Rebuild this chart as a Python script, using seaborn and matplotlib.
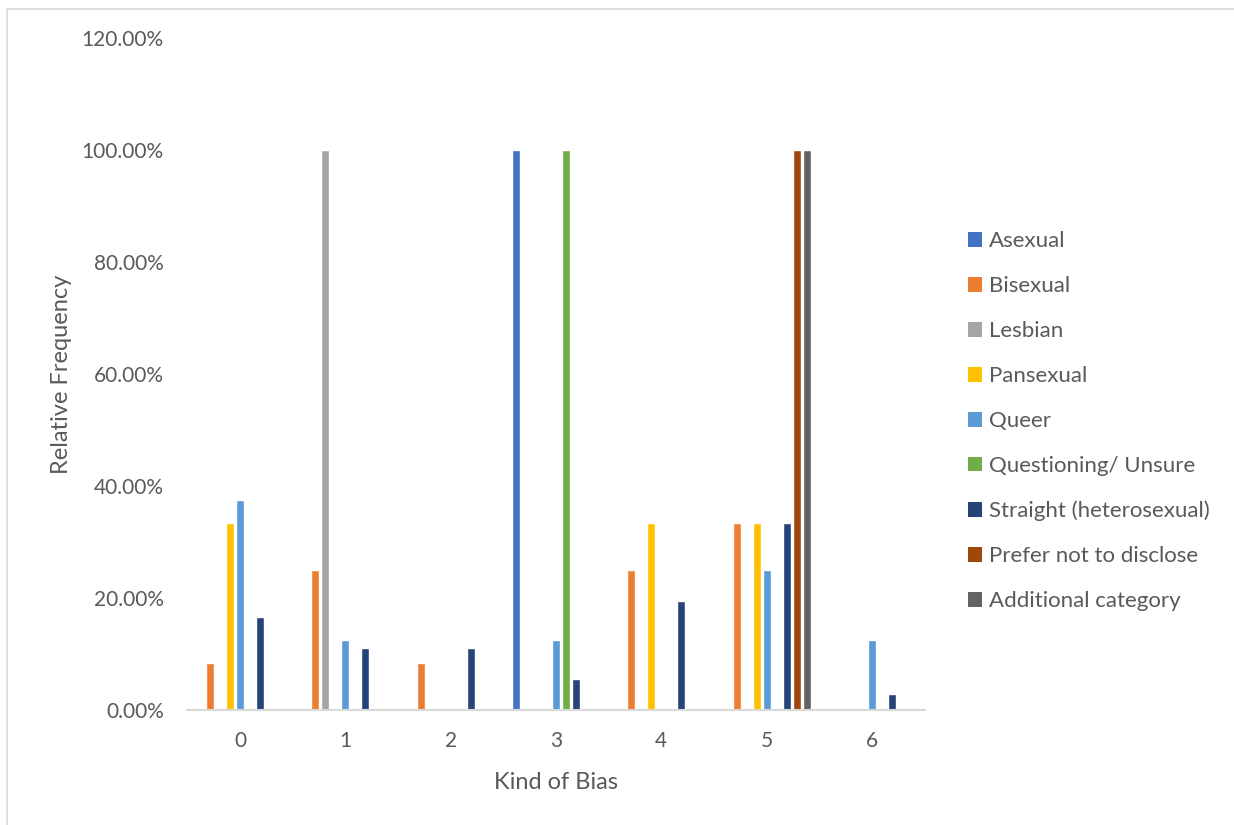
import matplotlib
matplotlib.use("Agg")
import matplotlib.pyplot as plt
import seaborn as sns
import pandas as pd
from matplotlib.patches import Patch
from matplotlib.lines import Line2D
from matplotlib.ticker import FuncFormatter, MultipleLocator

# Kind of bias categories (x axis)
kinds = ["0", "1", "2", "3", "4", "5", "6"]

# Relative frequency (%) per orientation group, one value per kind of bias
asexual = [0, 0, 0, 100, 0, 0, 0]
bisexual = [8.33, 25, 8.33, 0, 25, 33.33, 0]
lesbian = [0, 100, 0, 0, 0, 0, 0]
pansexual = [33.33, 0, 0, 0, 33.33, 33.33, 0]
queer = [37.5, 12.5, 0, 12.5, 0, 25, 12.5]
questioning = [0, 0, 0, 100, 0, 0, 0]
straight = [16.67, 11.11, 11.11, 5.56, 19.44, 33.33, 2.78]
prefer_not = [0, 0, 0, 0, 0, 100, 0]
additional = [0, 0, 0, 0, 0, 100, 0]

groups = ["Asexual", "Bisexual", "Lesbian", "Pansexual", "Queer",
          "Questioning/ Unsure", "Straight (heterosexual)",
          "Prefer not to disclose", "Additional category"]
series = [asexual, bisexual, lesbian, pansexual, queer, questioning,
          straight, prefer_not, additional]
colors = ["#4472C4", "#ED7D31", "#A5A5A5", "#FFC000", "#5B9BD5",
          "#70AD47", "#264478", "#9E480E", "#636363"]

rows = []
for g, vals in zip(groups, series):
    for k, v in zip(kinds, vals):
        rows.append({"kind": k, "group": g, "freq": v})
df = pd.DataFrame(rows)

sns.set_style("white")
plt.rcParams["font.family"] = ["Lato", "DejaVu Sans"]
text_color = "#595959"

W, H = 1234, 825
fig = plt.figure(figsize=(W / 100, H / 100), dpi=100)
ax = fig.add_axes([187.4 / W, 1 - 710 / H, 737.2 / W, 672 / H])

sns.barplot(data=df, x="kind", y="freq", hue="group", order=kinds,
            hue_order=groups, palette=colors, width=0.855, gap=0.2,
            errorbar=None, saturation=1, legend=False, ax=ax)

ax.set_xlim(-0.5, 6.5)
ax.set_ylim(0, 120)
ax.yaxis.set_major_locator(MultipleLocator(20))
ax.yaxis.set_major_formatter(FuncFormatter(lambda v, p: f"{v:.2f}%"))

for s in ["top", "right", "left"]:
    ax.spines[s].set_visible(False)
ax.spines["bottom"].set_color("#D9D9D9")
ax.spines["bottom"].set_linewidth(1.5)
ax.grid(False)

ax.tick_params(axis="both", length=0, labelsize=15, labelcolor=text_color)
ax.tick_params(axis="y", pad=17)
ax.tick_params(axis="x", pad=15)

ax.set_xlabel("Kind of Bias", fontsize=17, color=text_color, labelpad=15)
ax.set_ylabel("Relative Frequency", fontsize=17, color=text_color, labelpad=7)

handles = [Patch(facecolor=c, edgecolor="none") for c in colors]
fig.legend(handles, groups, loc="upper left",
           bbox_to_anchor=(968 / W, 1 - 231.5 / H), frameon=False,
           fontsize=16, labelcolor=text_color, handlelength=0.63,
           handleheight=0.63, handletextpad=0.3, labelspacing=1.12,
           borderaxespad=0, borderpad=0)

# thin chart-area frame along the top and left edges
fig.add_artist(Line2D([7 / W, 7 / W], [0, 1 - 9 / H], transform=fig.transFigure,
                      color="#D9D9D9", lw=1.2))
fig.add_artist(Line2D([7 / W, 1], [1 - 9 / H, 1 - 9 / H], transform=fig.transFigure,
                      color="#D9D9D9", lw=1.2))

fig.savefig("out.png", dpi=100)
